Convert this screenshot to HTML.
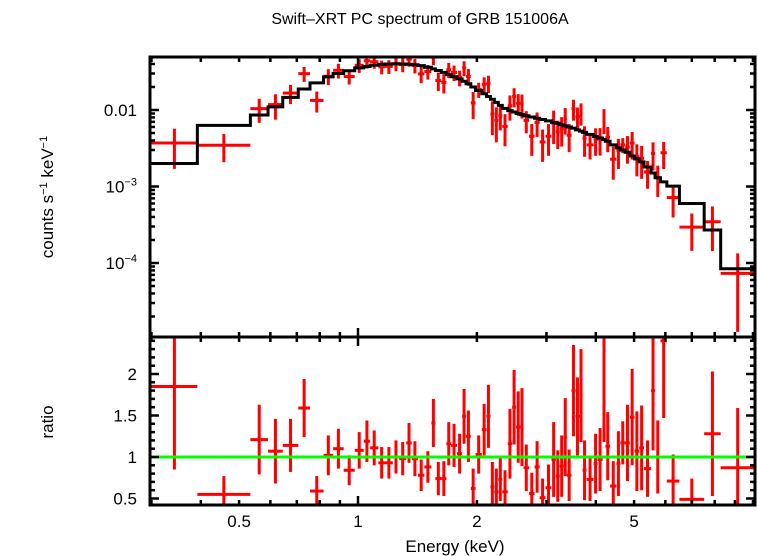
<!DOCTYPE html>
<html><head><meta charset="utf-8"><style>
html,body{margin:0;padding:0;background:#fff;}
svg{display:block;font-family:"Liberation Sans",sans-serif;}
</style></head><body>
<svg id="chart" width="758" height="556" viewBox="0 0 758 556">
<text x="420" y="24" font-size="16" text-anchor="middle">Swift–XRT PC spectrum of GRB 151006A</text>
<text transform="translate(53,197) rotate(-90)" font-size="17" text-anchor="middle">counts s<tspan font-size="11" dy="-6">−1</tspan><tspan dy="6"> keV</tspan><tspan font-size="11" dy="-6">−1</tspan></text>
<text transform="translate(53,422) rotate(-90)" font-size="17" text-anchor="middle">ratio</text>
<text x="455" y="552" font-size="17" text-anchor="middle">Energy (keV)</text>
<g id="g"></g>
</svg>
<script>
const binLo=[0.30,0.392,0.534,0.592,0.645,0.706,0.756,0.818,0.865,0.920,0.981,1.034,1.073,1.126,1.170,1.225,1.271,1.325,1.368,1.419,1.472,1.534,1.570,1.625,1.674,1.721,1.781,1.835,1.877,1.930,1.984,2.058,2.115,2.164,2.214,2.266,2.319,2.394,2.456,2.513,2.577,2.625,2.710,2.799,2.883,2.984,3.089,3.168,3.241,3.316,3.378,3.471,3.553,3.636,3.703,3.789,3.949,4.040,4.162,4.230,4.347,4.511,4.617,4.745,4.877,5.012,5.152,5.298,5.519,5.649,5.833,6.051,6.512,7.523,8.283];
const binHi=[0.392,0.534,0.592,0.645,0.706,0.756,0.818,0.865,0.920,0.981,1.034,1.073,1.126,1.170,1.225,1.271,1.325,1.368,1.419,1.472,1.534,1.570,1.625,1.674,1.721,1.781,1.835,1.877,1.930,1.984,2.058,2.115,2.164,2.214,2.266,2.319,2.394,2.456,2.513,2.577,2.625,2.710,2.799,2.883,2.984,3.089,3.168,3.241,3.316,3.378,3.471,3.553,3.636,3.703,3.789,3.949,4.040,4.162,4.230,4.347,4.511,4.617,4.745,4.877,5.012,5.152,5.298,5.519,5.649,5.833,6.051,6.512,7.523,8.283,10.1];
const model=[0.0020,0.0063,0.0086,0.0110,0.0146,0.0188,0.0226,0.0271,0.0300,0.0326,0.0355,0.0370,0.0385,0.0395,0.0400,0.0402,0.0400,0.0396,0.0390,0.0380,0.0362,0.0345,0.0328,0.0310,0.0290,0.0272,0.0255,0.0238,0.0220,0.0200,0.0180,0.0163,0.0150,0.0138,0.0126,0.0115,0.0105,0.0098,0.0094,0.0090,0.0087,0.0084,0.0081,0.0078,0.0075,0.0072,0.0069,0.0067,0.0064,0.0062,0.0060,0.0058,0.0055,0.0053,0.0051,0.0048,0.0045,0.0043,0.0041,0.0039,0.0035,0.0032,0.0030,0.0028,0.0025,0.0023,0.0021,0.0018,0.0015,0.0013,0.00115,0.00101,0.00060,0.00027,0.000084];
const ratio=[1.85,0.55,1.21,1.07,1.14,1.59,0.59,1.02,1.10,0.84,1.08,1.19,1.11,0.93,0.93,1.00,0.98,1.17,0.98,0.78,0.88,1.41,0.74,0.74,1.16,1.14,1.04,1.49,1.25,0.62,1.03,1.33,1.49,0.64,0.58,0.73,0.58,1.16,1.60,1.36,1.36,0.87,0.56,0.88,0.51,0.63,0.97,0.77,0.89,1.24,0.78,1.80,1.49,1.74,0.84,0.73,0.92,0.97,1.84,1.13,0.65,0.92,1.17,1.17,1.48,1.07,1.11,0.86,1.80,1.00,2.40,0.71,0.49,1.28,0.87];
const ratioErr=[1.0,0.22,0.42,0.39,0.32,0.35,0.18,0.24,0.24,0.18,0.22,0.25,0.21,0.19,0.19,0.20,0.20,0.24,0.21,0.19,0.19,0.29,0.20,0.21,0.26,0.26,0.24,0.33,0.31,0.24,0.23,0.31,0.38,0.30,0.28,0.26,0.26,0.42,0.45,0.43,0.47,0.28,0.25,0.31,0.23,0.28,0.45,0.31,0.37,0.47,0.31,0.55,0.47,0.56,0.36,0.26,0.36,0.38,0.66,0.41,0.30,0.39,0.26,0.46,0.58,0.48,0.51,0.34,0.72,0.44,0.93,0.32,0.25,0.75,0.72];
const xTickLabels=["0.5","1","2","5"];
const xTickVals=[0.5,1,2,5];
const yTopLabels=["0.01","10","10"];
const yTopVals=[0.01,0.001,0.0001];
const yBotVals=[0.5,1,1.5,2];

const L=150,R=755,T=57,M=337,B=505;
const NS="http://www.w3.org/2000/svg";
const g=document.getElementById('g');
const X=e=>358+395*Math.log10(e);
const YT=v=>110-76.5*(Math.log10(v)+2);
const YB=r=>457-83*(r-1);
function mk(tag,attrs,parent){const el=document.createElementNS(NS,tag);for(const k in attrs)el.setAttribute(k,attrs[k]);(parent||g).appendChild(el);return el;}
const defs=mk('defs',{});
const c1=mk('clipPath',{id:'ct'},defs);mk('rect',{x:L,y:T,width:R-L,height:M-T},c1);
const c2=mk('clipPath',{id:'cb'},defs);mk('rect',{x:L,y:M,width:R-L,height:B-M},c2);
const topG=mk('g',{'clip-path':'url(#ct)'});


const botG=mk('g',{'clip-path':'url(#cb)'});


for(let i=0;i<binLo.length;i++){
  const d=ratio[i]*model[i], e=ratioErr[i]*model[i];
  const xc=X(Math.sqrt(binLo[i]*binHi[i]));
  const grp=mk('g',{stroke:'#ff0000','stroke-width':3},topG);
  
  
  mk('line',{x1:X(binLo[i]),x2:X(binHi[i]),y1:YT(d),y2:YT(d)},grp);
  const lo=Math.max(d-e,1e-6);
  mk('line',{x1:xc,x2:xc,y1:YT(d+e),y2:YT(lo)},grp);
  const grp2=mk('g',{stroke:'#ff0000','stroke-width':3},botG);
  
  
  mk('line',{x1:X(binLo[i]),x2:X(binHi[i]),y1:YB(ratio[i]),y2:YB(ratio[i])},grp2);
  mk('line',{x1:xc,x2:xc,y1:YB(ratio[i]+ratioErr[i]),y2:YB(ratio[i]-ratioErr[i])},grp2);
}
let p='';
for(let i=0;i<binLo.length;i++){p+=(i?'L':'M')+X(binLo[i])+','+YT(model[i])+'L'+X(binHi[i])+','+YT(model[i]);}
const mp=mk('path',{d:p,fill:'none',stroke:'#000','stroke-width':3},topG);


const gl=mk('line',{x1:L,x2:R,y1:YB(1),y2:YB(1),stroke:'#00ff00','stroke-width':3},botG);


const tk=mk('g',{stroke:'#000','stroke-width':2.5});


const xt=[];
for(let d of [0.1,1]) for(let k=1;k<10;k++){const v=d*k; if(v>0.3&&v<10.05) xt.push(v);}
xt.push(10);
for(const v of xt){const x=X(v),len=(v===1)?9:5;
  for(const y of [T,M,B]){ if(y!==B) mk('line',{x1:x,x2:x,y1:y,y2:y+len},tk); if(y!==T) mk('line',{x1:x,x2:x,y1:y,y2:y-len},tk);}
}
for(let dec=-5;dec<=-2;dec++) for(let k=1;k<10;k++){const v=k*Math.pow(10,dec);const y=YT(v); if(y<T||y>M)continue;const len=k===1?9:5;
  mk('line',{x1:L,x2:L+len,y1:y,y2:y},tk);mk('line',{x1:R,x2:R-len,y1:y,y2:y},tk);}
for(let r=5;r<=24;r++){const v=r/10,y=YB(v); if(y<M||y>B)continue;const len=(r%5===0)?9:5;
  mk('line',{x1:L,x2:L+len,y1:y,y2:y},tk);mk('line',{x1:R,x2:R-len,y1:y,y2:y},tk);}
const fr=mk('path',{d:`M${L},${T}H${R}V${B}H${L}Z M${L},${M}H${R}`,fill:'none',stroke:'#000','stroke-width':3});


for(let i=0;i<xTickVals.length;i++){const t=mk('text',{x:X(xTickVals[i]),y:527,'font-size':17,'text-anchor':'middle'});t.textContent=xTickLabels[i];
  
  }
for(let i=0;i<yTopVals.length;i++){const t=mk('text',{x:137,y:YT(yTopVals[i])+6,'font-size':17,'text-anchor':'end'});
  
  
  if(i===0){t.textContent=yTopLabels[i];}
  else{t.textContent=yTopLabels[i];const s=mk('tspan',{'font-size':11,dy:-7},t);s.textContent='−'+(i+2);}
}
for(const v of yBotVals){const t=mk('text',{x:137,y:YB(v)+6,'font-size':17,'text-anchor':'end'});t.textContent=String(v);
  
  }
</script>
</body></html>
